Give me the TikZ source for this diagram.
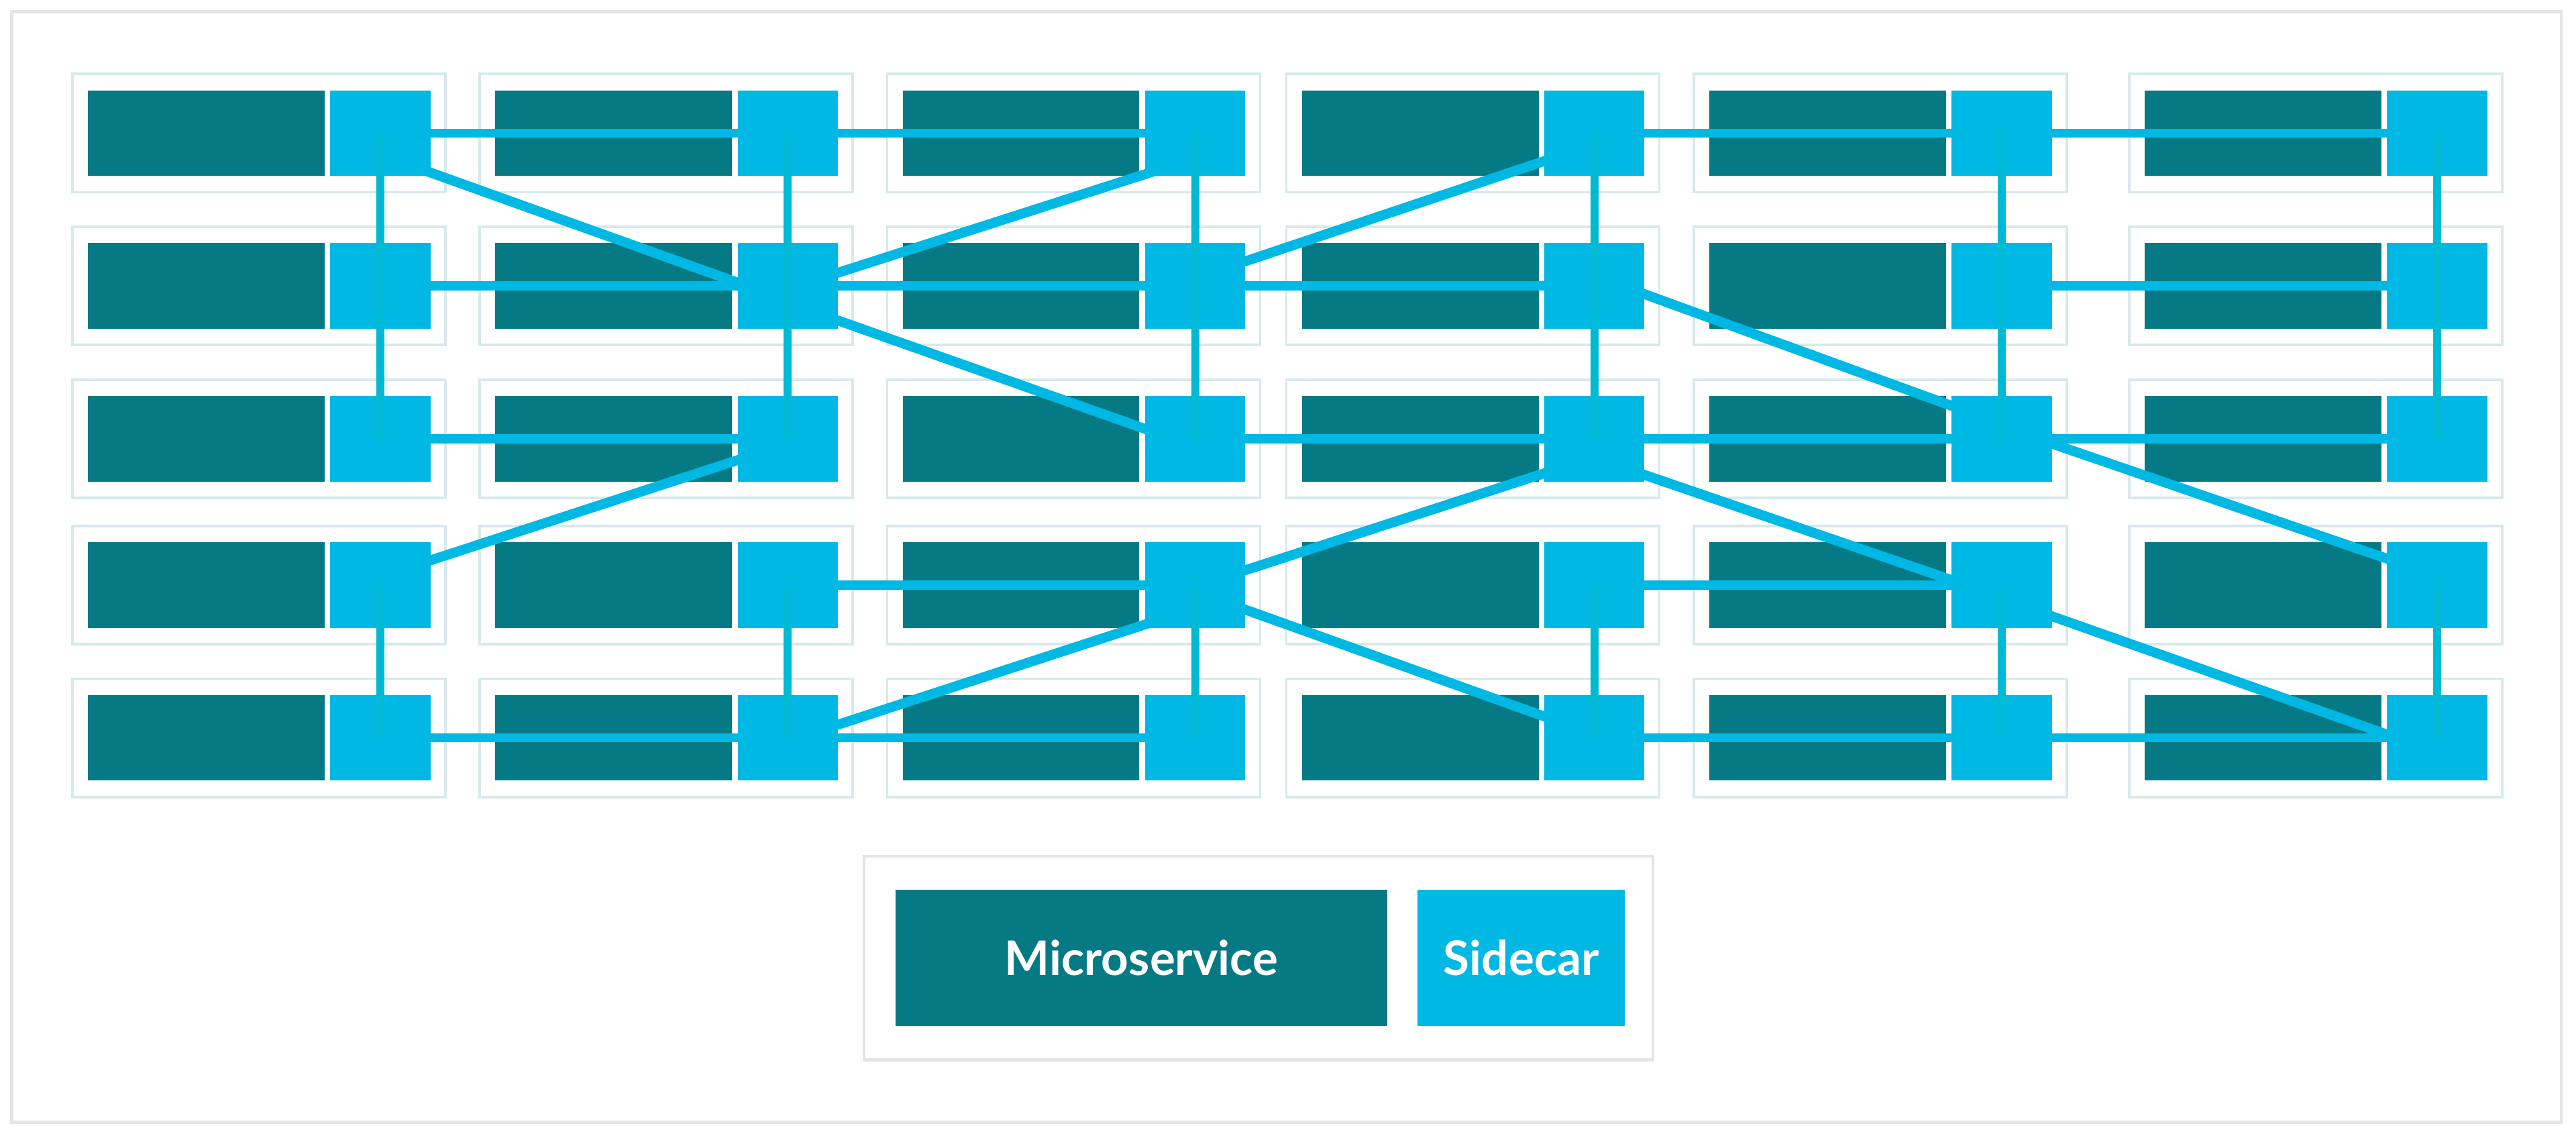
\documentclass[tikz,border=0pt]{standalone}
\usepackage{fontspec}
\setmainfont{Lato}
\usetikzlibrary{calc}
\definecolor{msteal}{RGB}{5,122,133}
\definecolor{sccyan}{RGB}{0,184,228}
\definecolor{vlinecol}{RGB}{0,186,212}
\definecolor{boxline}{RGB}{214,233,235}
\definecolor{frameline}{RGB}{226,229,230}
\pgfdeclarelayer{bg}
\pgfdeclarelayer{mid}
\pgfdeclarelayer{top}
\pgfsetlayers{bg,mid,main,top}
\tikzset{
  colbox/.style={draw=boxline, line width=1.5pt, minimum width=227pt, minimum height=72pt, inner sep=0pt, outer sep=0pt, anchor=north west},
  msbox/.style={fill=msteal, minimum width=144pt, minimum height=52pt, inner sep=0pt, outer sep=0pt, anchor=north west},
  scbox/.style={fill=sccyan, minimum width=61pt, minimum height=52pt, inner sep=0pt, outer sep=0pt, anchor=north west},
  framebox/.style={draw=frameline, line width=2pt, inner sep=0pt, outer sep=0pt, anchor=north west},
  hconn/.style={draw=sccyan, line width=5.5pt},
  dconn/.style={draw=sccyan, line width=6pt},
  vconn/.style={draw=vlinecol, line width=5pt},
  legtext/.style={text=white, font=\fontsize{29}{35}\selectfont\bfseries}
}
\begin{document}
\begin{tikzpicture}[x=1pt,y=-1pt]
\useasboundingbox (0,0) rectangle (1568,690.9);
\begin{pgfonlayer}{bg}
\node[framebox, minimum width=1552pt, minimum height=676pt] (frame) at (7,7) {};
\end{pgfonlayer}
\foreach \xl [count=\c] in {44,292,540,783,1031,1296} {
  \foreach \yt [count=\r] in {45,138,231,320,413} {
    \begin{pgfonlayer}{bg}
      \node[colbox] (B-\c-\r) at (\xl,\yt) {};
      \node[msbox] (M-\c-\r) at (\xl+9.5,\yt+10) {};
    \end{pgfonlayer}
    \node[scbox] (S-\c-\r) at (\xl+157,\yt+10) {};
  }
}
\begin{pgfonlayer}{mid}
\foreach \a/\b in {1-1/2-1, 2-1/3-1, 4-1/5-1, 5-1/6-1,
                   1-2/2-2, 2-2/3-2, 3-2/4-2, 5-2/6-2,
                   1-3/2-3, 3-3/4-3, 4-3/5-3, 5-3/6-3,
                   2-4/3-4, 4-4/5-4,
                   1-5/2-5, 2-5/3-5, 4-5/5-5, 5-5/6-5} {
  \draw[hconn] (S-\a.center) -- (S-\b.center);
}
\foreach \a/\da/\b/\db in {1-1/24/2-2/-2, 2-2/-8/3-1/25, 2-2/21/3-3/-6,
                           3-2/-15/4-1/17, 4-2/5/5-3/-20, 5-3/3/6-4/-16,
                           1-4/-15/2-3/13, 3-4/-9/4-3/21, 4-3/22/5-4/-3,
                           2-5/-8/3-4/24, 3-4/15/4-5/-13, 5-4/19/6-5/-2} {
  \coordinate (p) at ($(S-\a.east)+(0,\da)$);
  \coordinate (q) at ($(S-\b.west)+(0,\db)$);
  \draw[dconn] ($(p)!-0.08!(q)$) -- ($(q)!-0.08!(p)$);
}
\end{pgfonlayer}
\begin{pgfonlayer}{top}
\foreach \c in {1,...,6} {
  \draw[vconn] (S-\c-1.center) -- (S-\c-2.center) -- (S-\c-3.center);
  \draw[vconn] (S-\c-4.center) -- (S-\c-5.center);
}
\end{pgfonlayer}
% legend
\node[framebox, line width=1.8pt, minimum width=480pt, minimum height=124pt] (legend) at (526,521) {};
\node[msbox, legtext, minimum width=299.5pt, minimum height=83pt] (legms) at (545,541.5) {Microservice};
\node[scbox, legtext, minimum width=126pt, minimum height=83pt] (legsc) at (863,541.5) {Sidecar};
\end{tikzpicture}
\end{document}
